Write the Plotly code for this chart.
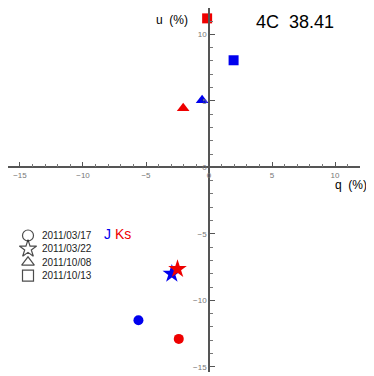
import plotly.graph_objects as go

# Data (q, u in %)
dates = ["2011/03/17", "2011/03/22", "2011/10/08", "2011/10/13"]
symbols = ["circle", "star", "triangle-up", "square"]
sizes = [10, 14, 11, 10]

q_J = [-5.6, -2.95, -0.55, 1.95]
u_J = [-11.5, -8.0, 5.05, 8.05]
q_Ks = [-2.4, -2.5, -2.05, -0.15]
u_Ks = [-12.9, -7.65, 4.45, 11.2]

x_range = [-15.95, 11.98]
y_range = [-15.39, 11.98]

# page has an 8px body margin; figure sized to fill the rest of the window
W, H = 366, 368
ML, MR, MT, MB = 0, 14, 0, 4
OFF = 8  # page offset of the figure

fig = go.Figure()

for i in range(len(dates)):
    fig.add_trace(go.Scatter(x=[q_J[i]], y=[u_J[i]], mode="markers",
                             marker=dict(symbol=symbols[i], size=sizes[i], color="#0000ee",
                                         line=dict(width=0)),
                             showlegend=False, hoverinfo="skip"))
    fig.add_trace(go.Scatter(x=[q_Ks[i]], y=[u_Ks[i]], mode="markers",
                             marker=dict(symbol=symbols[i], size=sizes[i], color="#ee0000",
                                         line=dict(width=0)),
                             showlegend=False, hoverinfo="skip"))

# legend block (open black symbols + dates), laid out in page-pixel coordinates on an overlay axis
key_x, text_x, row0, row_gap = 28, 40, 235.5, 13.4
key_sizes = [11, 13, 11, 11]
fig.add_trace(go.Scatter(
    x=[key_x] * len(dates), y=[row0 + row_gap * i for i in range(len(dates))],
    mode="markers", xaxis="x2", yaxis="y2", showlegend=False, hoverinfo="skip",
    marker=dict(symbol=[s + "-open" for s in symbols], size=key_sizes, color="black",
                line=dict(width=1.2, color="black"))))

annotations = [
    dict(x=6.8, y=10.9, xref="x", yref="y", text="4C  38.41", showarrow=False,
         font=dict(size=18, color="black")),
    dict(x=-1.5, y=11.05, xref="x", yref="y", text="u  (%)", showarrow=False,
         xanchor="right", font=dict(size=12, color="black")),
    dict(x=9.8, y=-1.35, xref="x", yref="y", text="q  (%)", showarrow=False,
         xanchor="left", font=dict(size=12, color="black")),
    dict(x=-8.5, y=-5.0, xref="x", yref="y", xanchor="left",
         text="<span style='color:#0000ee'>J</span> <span style='color:#ee0000'>Ks</span>",
         showarrow=False, font=dict(size=14)),
]
for i, d in enumerate(dates):
    annotations.append(dict(x=text_x, y=row0 + row_gap * i, xref="x2", yref="y2",
                            text=d, showarrow=False, xanchor="left",
                            font=dict(size=10, color="#222")))

axis_common = dict(showline=True, linecolor="#555", linewidth=1.5, showgrid=False,
                   zeroline=False, ticks="inside", ticklen=5, tickwidth=1, tickcolor="#555",
                   dtick=5, tick0=0, automargin=False,
                   minor=dict(dtick=1, ticks="inside", ticklen=3, tickcolor="#777", tickwidth=1),
                   tickfont=dict(size=8, color="#777", family="Liberation Sans"),
                   fixedrange=True)

fig.update_layout(
    width=W, height=H,
    margin=dict(l=ML, r=MR, t=MT, b=MB, autoexpand=False),
    plot_bgcolor="white", paper_bgcolor="white",
    font=dict(family="Liberation Sans", color="black"),
    showlegend=False,
    xaxis=dict(range=x_range, anchor="free",
               position=(0 - y_range[0]) / (y_range[1] - y_range[0]), **axis_common),
    yaxis=dict(range=y_range, anchor="free",
               position=(0 - x_range[0]) / (x_range[1] - x_range[0]), **axis_common),
    xaxis2=dict(range=[OFF + ML, OFF + W - MR], overlaying="x", visible=False, fixedrange=True),
    yaxis2=dict(range=[OFF + H - MB, OFF + MT], overlaying="y", visible=False, fixedrange=True),
    annotations=annotations,
)

fig.write_html("out.html")
